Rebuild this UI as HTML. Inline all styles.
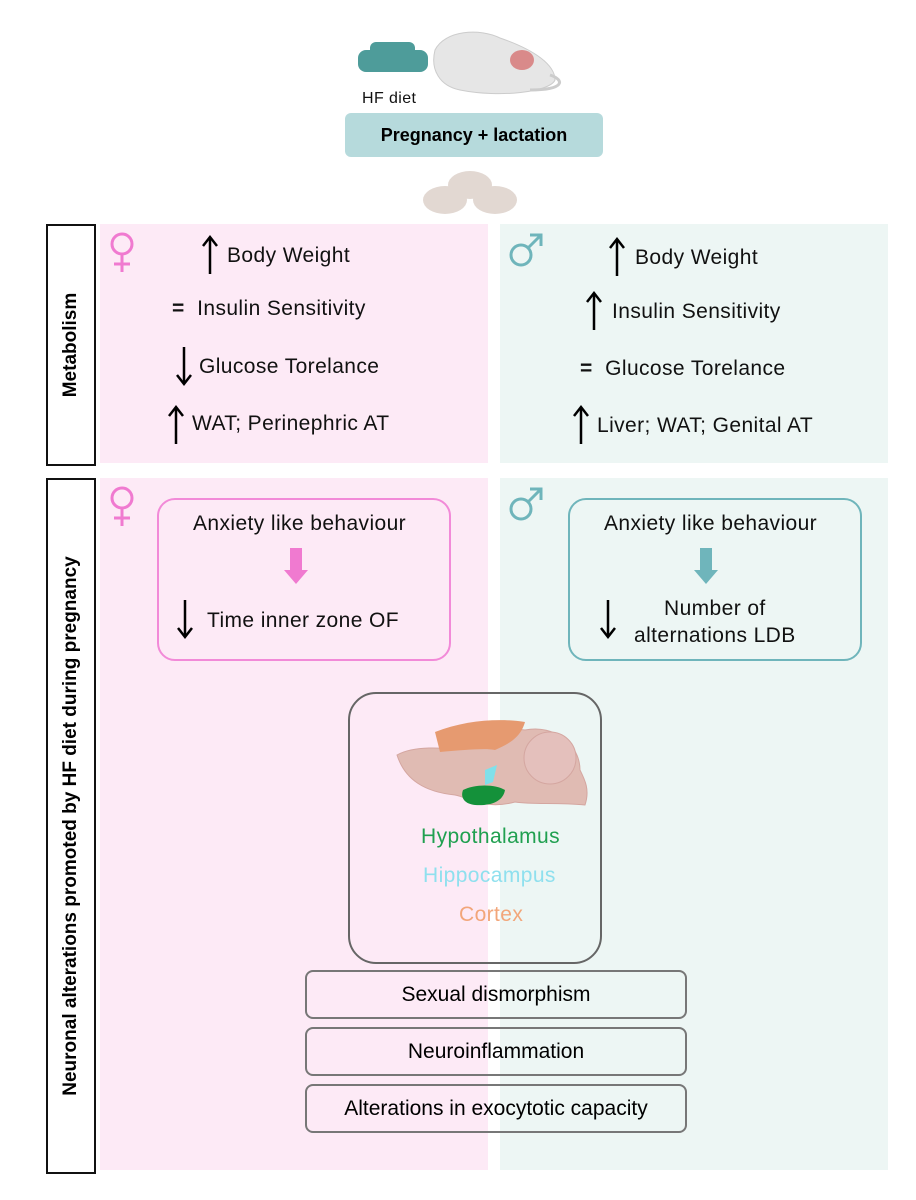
<!DOCTYPE html>
<html><head><meta charset="utf-8"><style>
body{margin:0;width:916px;height:1200px;background:#fff;position:relative;font-family:"Liberation Sans",sans-serif;overflow:hidden}
.a{position:absolute}
.t{position:absolute;font-size:21px;color:#111;white-space:nowrap;letter-spacing:0.4px}
.lab{position:absolute;border:2px solid #111;background:#fff}
.lab span{position:absolute;left:50%;top:50%;transform:translate(-50%,-50%) rotate(-90deg);white-space:nowrap;font-weight:bold;font-size:19px}
.box{position:absolute;border:2px solid #777;border-radius:8px;font-size:21px;text-align:center}
</style></head><body>
<svg width="0" height="0" style="position:absolute"><defs>
<g id="up"><line x1="8" y1="4" x2="8" y2="40" stroke="#000" stroke-width="2.5"/><polyline points="1,12 8,3 15,12" fill="none" stroke="#000" stroke-width="2.5"/></g>
<g id="dn"><line x1="8" y1="0" x2="8" y2="36" stroke="#000" stroke-width="2.5"/><polyline points="1,28 8,37 15,28" fill="none" stroke="#000" stroke-width="2.5"/></g>
<g id="fe"><circle cx="14" cy="12" r="10" fill="none" stroke="#f07ad0" stroke-width="3"/><line x1="14" y1="22" x2="14" y2="40" stroke="#f07ad0" stroke-width="3"/><line x1="6" y1="32" x2="22" y2="32" stroke="#f07ad0" stroke-width="3"/></g>
<g id="ma"><circle cx="13" cy="23" r="10" fill="none" stroke="#6fb5bb" stroke-width="3"/><line x1="20" y1="16" x2="32" y2="4" stroke="#6fb5bb" stroke-width="3"/><polyline points="22,3 33,3 33,14" fill="none" stroke="#6fb5bb" stroke-width="3"/></g>
</defs></svg>
<div class="a" style="left:100px;top:224px;width:388px;height:239px;background:#fdeaf6"></div>
<div class="a" style="left:500px;top:224px;width:388px;height:239px;background:#edf6f4"></div>
<div class="a" style="left:100px;top:478px;width:388px;height:692px;background:#fdeaf6"></div>
<div class="a" style="left:500px;top:478px;width:388px;height:692px;background:#edf6f4"></div>
<div class="lab" style="left:46px;top:224px;width:46px;height:238px"><span>Metabolism</span></div>
<div class="lab" style="left:46px;top:478px;width:46px;height:692px"><span>Neuronal alterations promoted by HF diet during pregnancy</span></div>

<svg class="a" style="left:350px;top:20px" width="220" height="200">
<g fill="#4e9c9a"><rect x="8" y="30" width="70" height="22" rx="8"/><rect x="20" y="22" width="45" height="14" rx="6"/></g>
<path d="M85 30 C95 10 130 8 150 18 C185 30 205 45 205 60 C200 72 150 78 110 70 C90 66 80 50 85 30Z" fill="#e6e6e6" stroke="#ccc"/>
<path d="M200 55 C215 60 215 70 180 70" fill="none" stroke="#ccc" stroke-width="3"/>
<ellipse cx="172" cy="40" rx="12" ry="10" fill="#d98a8a"/>
<g fill="#e2d8d2"><ellipse cx="120" cy="165" rx="22" ry="14"/><ellipse cx="95" cy="180" rx="22" ry="14"/><ellipse cx="145" cy="180" rx="22" ry="14"/></g>
</svg>
<div class="t" style="left:362px;top:90px;font-size:16px">HF diet</div>
<div class="a" style="left:345px;top:113px;width:258px;height:44px;background:#b6dadc;border-radius:6px;font-weight:bold;font-size:18px;text-align:center;line-height:44px">Pregnancy + lactation</div>

<svg class="a" style="left:108px;top:232px" width="40" height="45"><use href="#fe"/></svg>
<svg class="a" style="left:508px;top:232px" width="40" height="45"><use href="#ma"/></svg>
<svg class="a" style="left:108px;top:486px" width="40" height="45"><use href="#fe"/></svg>
<svg class="a" style="left:508px;top:486px" width="40" height="45"><use href="#ma"/></svg>

<svg class="a" style="left:202px;top:234px" width="16" height="42"><use href="#up"/></svg><div class="t" style="left:227px;top:244px">Body Weight</div>
<div class="t" style="left:172px;top:297px"><b>=</b>&nbsp; Insulin Sensitivity</div>
<svg class="a" style="left:176px;top:347px" width="16" height="42"><use href="#dn"/></svg><div class="t" style="left:199px;top:355px">Glucose Torelance</div>
<svg class="a" style="left:168px;top:404px" width="16" height="42"><use href="#up"/></svg><div class="t" style="left:192px;top:412px">WAT; Perinephric AT</div>

<svg class="a" style="left:609px;top:236px" width="16" height="42"><use href="#up"/></svg><div class="t" style="left:635px;top:246px">Body Weight</div>
<svg class="a" style="left:586px;top:290px" width="16" height="42"><use href="#up"/></svg><div class="t" style="left:612px;top:300px">Insulin Sensitivity</div>
<div class="t" style="left:580px;top:357px"><b>=</b>&nbsp; Glucose Torelance</div>
<svg class="a" style="left:573px;top:404px" width="16" height="42"><use href="#up"/></svg><div class="t" style="left:597px;top:414px">Liver; WAT; Genital AT</div>

<div class="a" style="left:157px;top:498px;width:290px;height:159px;border:2px solid #f28ad8;border-radius:18px"></div>
<div class="t" style="left:193px;top:512px">Anxiety like behaviour</div>
<div class="a" style="left:290px;top:548px;width:12px;height:22px;background:#f07ad0"></div>
<div class="a" style="left:284px;top:570px;width:0;height:0;border-left:12px solid transparent;border-right:12px solid transparent;border-top:14px solid #f07ad0"></div>
<svg class="a" style="left:177px;top:600px" width="16" height="42"><use href="#dn"/></svg><div class="t" style="left:207px;top:609px">Time inner zone OF</div>

<div class="a" style="left:568px;top:498px;width:290px;height:159px;border:2px solid #6fb5bb;border-radius:18px"></div>
<div class="t" style="left:604px;top:512px">Anxiety like behaviour</div>
<div class="a" style="left:700px;top:548px;width:12px;height:22px;background:#6fb5bb"></div>
<div class="a" style="left:694px;top:570px;width:0;height:0;border-left:12px solid transparent;border-right:12px solid transparent;border-top:14px solid #6fb5bb"></div>
<svg class="a" style="left:600px;top:600px" width="16" height="42"><use href="#dn"/></svg><div class="t" style="left:634px;top:595px;text-align:center;line-height:27px">Number of<br>alternations LDB</div>

<div class="a" style="left:348px;top:692px;width:250px;height:268px;border:2px solid #666;border-radius:28px"></div>
<svg class="a" style="left:385px;top:710px" width="210" height="100">
<path d="M12 45 C30 35 60 38 70 40 C80 22 110 16 140 20 C170 14 195 35 195 60 C200 70 205 80 200 95 C170 92 150 95 130 92 C100 100 85 88 70 85 C40 82 20 70 12 45Z" fill="#e0bbb3" stroke="#d4a6a0"/>
<path d="M50 22 C80 10 115 8 140 12 C135 30 120 35 110 40 C100 38 80 40 55 42Z" fill="#e69a70"/>
<path d="M100 60 L112 55 L108 72 L100 75Z" fill="#80e0ea"/>
<path d="M78 80 C90 74 110 74 120 80 C118 92 105 96 90 95 C80 94 75 88 78 80Z" fill="#14913a"/>
<circle cx="165" cy="48" r="26" fill="#e4c0bc" stroke="#d4a6a0"/>
</svg>
<div class="t" style="left:421px;top:825px;color:#20a050">Hypothalamus</div>
<div class="t" style="left:423px;top:864px;color:#8fe0ee">Hippocampus</div>
<div class="t" style="left:459px;top:903px;color:#f2a67a">Cortex</div>

<div class="box" style="left:305px;top:970px;width:378px;height:45px;line-height:45px">Sexual dismorphism</div>
<div class="box" style="left:305px;top:1027px;width:378px;height:45px;line-height:45px">Neuroinflammation</div>
<div class="box" style="left:305px;top:1084px;width:378px;height:45px;line-height:45px">Alterations in exocytotic capacity</div>
</body></html>
